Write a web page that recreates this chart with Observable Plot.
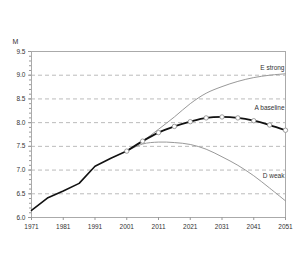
<!DOCTYPE html>
<html>
<head>
<meta charset="utf-8">
<script src="https://cdn.jsdelivr.net/npm/d3@7"></script>
<script src="https://cdn.jsdelivr.net/npm/@observablehq/plot@0.6"></script>
<style>
  html, body { margin: 0; padding: 0; background: #fff; }
  #chart { width: 300px; height: 256px; }
</style>
</head>
<body>
<div id="chart"></div>
<script>
const histYears = [1971, 1976, 1981, 1986, 1991, 1996, 2001];
const histValues = [6.15, 6.41, 6.56, 6.72, 7.08, 7.25, 7.40];

const projYears = [2001, 2006, 2011, 2016, 2021, 2026, 2031, 2036, 2041, 2046, 2051];
const baselineValues = [7.40, 7.61, 7.79, 7.92, 8.02, 8.10, 8.12, 8.10, 8.04, 7.95, 7.84];
const strongValues = [7.40, 7.61, 7.86, 8.12, 8.40, 8.62, 8.76, 8.87, 8.95, 9.00, 9.03];
const weakValues = [7.40, 7.55, 7.59, 7.58, 7.54, 7.44, 7.28, 7.10, 6.88, 6.62, 6.35];

const xTicks = [1971, 1981, 1991, 2001, 2011, 2021, 2031, 2041, 2051];
const yTicks = [6.0, 6.5, 7.0, 7.5, 8.0, 8.5, 9.0, 9.5];
const yMinorTicks = d3.range(60, 96).map(d => d / 10);
const gridValues = [6.5, 7.0, 7.5, 8.0, 8.5, 9.0];
const unitLabel = "M";
const seriesLabels = ["E strong", "A baseline", "D weak"];

const hist = histYears.map((y, i) => ({year: y, value: histValues[i]}));
const mk = vals => projYears.map((y, i) => ({year: y, value: vals[i]}));
const base = mk(baselineValues), strong = mk(strongValues), weak = mk(weakValues);

const font = "Liberation Sans, Arial, sans-serif";
const fs = 6.5;

const chart = Plot.plot({
  width: 300,
  height: 256,
  marginLeft: 31,
  marginRight: 15,
  marginTop: 51,
  marginBottom: 39,
  style: {fontFamily: font, fontSize: fs + "px", color: "#333", background: "#fff"},
  x: {domain: [1971, 2051]},
  y: {domain: [6, 9.5]},
  marks: [
    Plot.ruleY(gridValues, {stroke: "#bbb", strokeWidth: 1, strokeDasharray: "4,3"}),
    Plot.ruleY([9.5], {stroke: "#aaa"}),
    Plot.ruleY([6.0], {stroke: "#aaa"}),
    Plot.ruleX([1971], {stroke: "#aaa"}),
    Plot.ruleX([2051], {stroke: "#aaa"}),
    Plot.axisY(yMinorTicks, {tickSize: 2, stroke: "#999", tickFormat: () => "", label: null}),
    Plot.axisY(yTicks, {tickSize: 3, stroke: "#999", tickPadding: 3, tickFormat: d3.format(".1f"), label: null, fontSize: fs}),
    Plot.axisX(xTicks, {tickSize: 3, stroke: "#999", tickPadding: 4, tickFormat: d3.format("d"), label: null, fontSize: fs}),
    Plot.text([unitLabel], {frameAnchor: "top-left", textAnchor: "middle", lineAnchor: "middle", dx: -16, dy: -10, fontSize: 7, fill: "#333"}),
    Plot.line(strong, {x: "year", y: "value", stroke: "#999", strokeWidth: 1, curve: "catmull-rom"}),
    Plot.line(weak, {x: "year", y: "value", stroke: "#999", strokeWidth: 1, curve: "catmull-rom"}),
    Plot.line(hist, {x: "year", y: "value", stroke: "#111", strokeWidth: 1.6}),
    Plot.line(base, {x: "year", y: "value", stroke: "#111", strokeWidth: 1.8, curve: "catmull-rom"}),
    Plot.dot(base, {x: "year", y: "value", r: 2.2, fill: "#fff", stroke: "#888", strokeWidth: 0.8}),
    Plot.text([strong[strong.length - 1]], {x: "year", y: "value", text: () => seriesLabels[0], textAnchor: "end", dx: -1, dy: -6, fill: "#333", fontSize: fs}),
    Plot.text([base[base.length - 1]], {x: "year", y: "value", text: () => seriesLabels[1], textAnchor: "end", dx: -1, dy: -22, fill: "#333", fontSize: fs}),
    Plot.text([weak[weak.length - 1]], {x: "year", y: "value", text: () => seriesLabels[2], textAnchor: "end", dx: -1, dy: -25, fill: "#333", fontSize: fs})
  ]
});
document.getElementById("chart").appendChild(chart);
</script>
</body>
</html>
